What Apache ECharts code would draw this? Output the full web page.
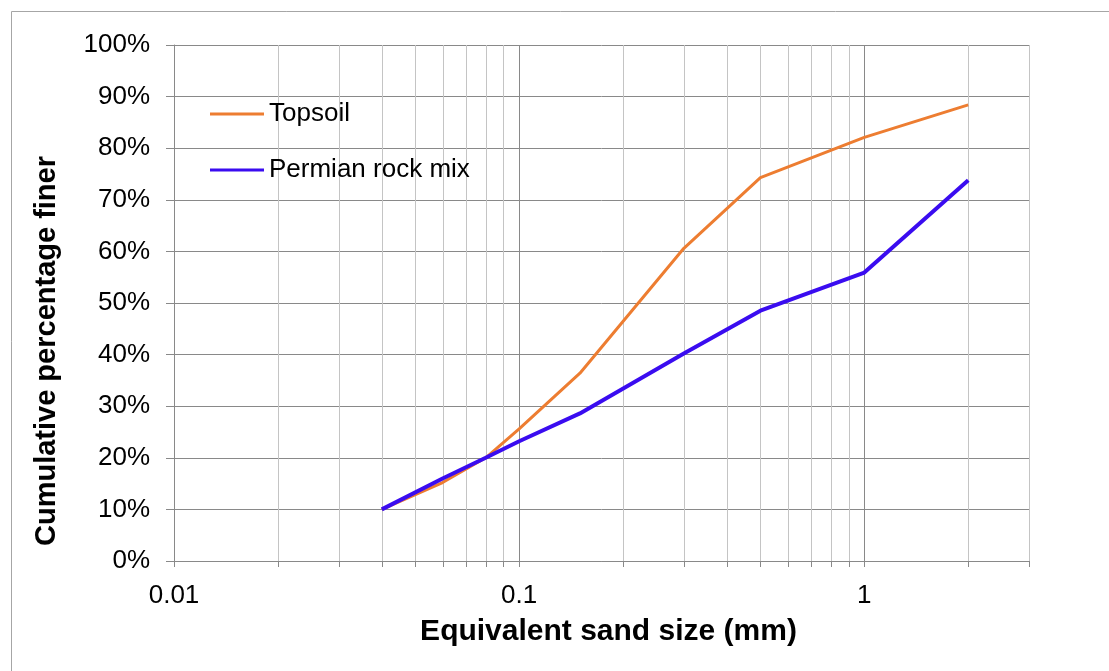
<!DOCTYPE html>
<html>
<head>
<meta charset="utf-8">
<script src="https://cdn.jsdelivr.net/npm/echarts@6/dist/echarts.min.js"></script>
<style>
html,body{margin:0;padding:0;background:#fff;}
#chart{width:1109px;height:671px;}
</style>
</head>
<body>
<div id="chart"></div>
<script>
// ---- data ----
const sizes = [0.04, 0.06, 0.08, 0.1, 0.15, 0.3, 0.5, 1, 2];
const topsoil = [10, 15.2, 20, 25.6, 36.4, 60.6, 74.3, 82.1, 88.4];
const permian = [10, 16, 20, 23.2, 28.6, 40.2, 48.5, 55.9, 73.8];
const seriesNames = ['Topsoil', 'Permian rock mix'];
const xTickLabels = ['0.01', '0.1', '1'];
const xMajorGrid = [0.01, 0.1, 1];
const xMinorGrid = [0.02, 0.03, 0.04, 0.05, 0.06, 0.07, 0.08, 0.09,
                    0.2, 0.3, 0.4, 0.5, 0.6, 0.7, 0.8, 0.9, 2, 3];
const xMin = 0.01, xMax = 3;
const yMin = 0, yMax = 100, yStep = 10;

const font = '"Liberation Sans", Arial, sans-serif';
const gridData = xMajorGrid.map(v => [v, 0, 1]).concat(xMinorGrid.map(v => [v, 0, 0]));

const chart = echarts.init(document.getElementById('chart'));
chart.setOption({
  animation: false,
  backgroundColor: '#ffffff',
  graphic: [
    {type: 'rect', shape: {x: 11.5, y: 11.5, width: 1120, height: 700},
     style: {fill: 'none', stroke: '#a6a6a6', lineWidth: 1}, silent: true, z: 0},
    {type: 'text', x: 47, y: 351, rotation: Math.PI / 2,
     style: {text: 'Cumulative percentage finer', font: 'bold 29px ' + font, fill: '#000',
             align: 'center', verticalAlign: 'middle'}}
  ],
  grid: {left: 174, right: 80, top: 45, bottom: 110},
  legend: {
    data: seriesNames, orient: 'vertical', left: 205, top: 96,
    icon: 'rect', itemWidth: 54, itemHeight: 3, itemGap: 30,
    textStyle: {fontFamily: font, fontSize: 26, color: '#000'}
  },
  xAxis: {
    type: 'log', logBase: 10, min: xMin, max: xMax,
    name: 'Equivalent sand size (mm)', nameLocation: 'middle', nameGap: 56,
    nameTextStyle: {fontFamily: font, fontSize: 30, fontWeight: 'bold', color: '#000', padding: [0, 0, 0, 14]},
    axisLine: {show: true, lineStyle: {color: '#898989', width: 1}},
    axisTick: {show: false},
    splitLine: {show: false},
    minorTick: {show: false},
    axisLabel: {
      fontFamily: font, fontSize: 26, color: '#000', margin: 22,
      formatter: function (v) {
        for (const s of xTickLabels) {
          if (Math.abs(Math.log10(parseFloat(s)) - Math.log10(v)) < 1e-6) return s;
        }
        return '';
      }
    }
  },
  yAxis: {
    type: 'value', min: yMin, max: yMax, interval: yStep,
    axisLine: {show: true, lineStyle: {color: '#898989', width: 1}},
    axisTick: {show: true, length: 8, lineStyle: {color: '#898989'}},
    splitLine: {show: true, lineStyle: {color: '#898989', width: 1}},
    axisLabel: {fontFamily: font, fontSize: 26, color: '#000', margin: 24, formatter: '{value}%'}
  },
  series: [
    {
      type: 'custom', name: 'grid', silent: true, z: 1, clip: false,
      data: gridData, encode: {x: 0, y: 1},
      renderItem: function (params, api) {
        const v = api.value(0);
        const major = api.value(2) === 1;
        const p1 = api.coord([v, yMax]);
        const p0 = api.coord([v, yMin]);
        return {
          type: 'group',
          children: [
            {type: 'line', shape: {x1: Math.round(p1[0]) + 0.5, y1: p1[1], x2: Math.round(p0[0]) + 0.5, y2: p0[1]},
             style: {stroke: major ? '#898989' : '#c4c4c4', lineWidth: 1}},
            {type: 'line', shape: {x1: Math.round(p0[0]) + 0.5, y1: p0[1], x2: Math.round(p0[0]) + 0.5, y2: p0[1] + 6},
             style: {stroke: '#898989', lineWidth: 1}}
          ]
        };
      }
    },
    {
      name: seriesNames[0], type: 'line', z: 3, symbol: 'none',
      data: sizes.map((s, i) => [s, topsoil[i]]),
      lineStyle: {color: '#ED7D31', width: 3}, itemStyle: {color: '#ED7D31'}
    },
    {
      name: seriesNames[1], type: 'line', z: 4, symbol: 'none',
      data: sizes.map((s, i) => [s, permian[i]]),
      lineStyle: {color: '#3A0CF0', width: 4}, itemStyle: {color: '#3A0CF0'}
    }
  ]
});
</script>
</body>
</html>
